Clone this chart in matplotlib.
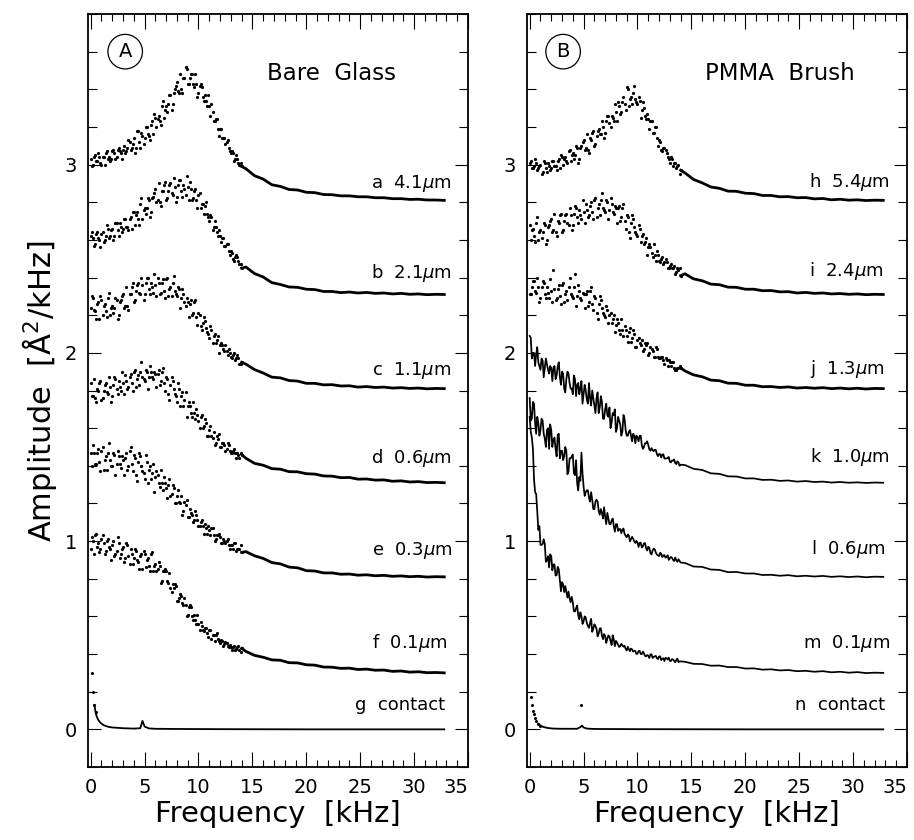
import numpy as np
import matplotlib
matplotlib.use('Agg')
import matplotlib.pyplot as plt
from matplotlib.ticker import MultipleLocator

plt.rcParams['font.family'] = ['DejaVu Sans']
plt.rcParams['mathtext.fontset'] = 'dejavusans'

# frequency bins [kHz]: two interleaved sets in the noisy part, then the smooth tail
freq_low = np.round(np.arange(0.0, 14.01, 0.2), 1)    # 0.0, 0.2 ... 14.0
freq_mid = np.round(np.arange(0.1, 13.95, 0.2), 1)    # 0.1, 0.3 ... 13.9
freq_tail = np.linspace(14.4, 32.8, 24)

# ---- panel A: bare glass ----
a_low = [3.03, 3.00, 3.05, 3.02, 3.04, 3.00, 3.04, 3.06, 3.03, 3.02,
         3.07, 3.06, 3.04, 3.09, 3.06, 3.08, 3.06, 3.09, 3.12, 3.09,
         3.14, 3.09, 3.18, 3.09, 3.15, 3.14, 3.20, 3.15, 3.21, 3.16,
         3.25, 3.24, 3.23, 3.31, 3.25, 3.31, 3.32, 3.37, 3.32, 3.40,
         3.44, 3.38, 3.40, 3.46, 3.52, 3.43, 3.46, 3.48, 3.41, 3.43,
         3.38, 3.43, 3.36, 3.37, 3.31, 3.31, 3.32, 3.23, 3.24, 3.19,
         3.19, 3.14, 3.14, 3.12, 3.09, 3.06, 3.06, 3.03, 3.03, 3.00,
         2.99]
a_mid = [2.99, 3.04, 3.02, 3.06, 3.01, 3.04, 3.00, 3.07, 3.04, 3.03,
         3.08, 3.03, 3.08, 3.07, 3.03, 3.10, 3.07, 3.13, 3.08, 3.11,
         3.06, 3.18, 3.12, 3.17, 3.11, 3.20, 3.16, 3.13, 3.23, 3.27,
         3.20, 3.26, 3.21, 3.34, 3.29, 3.28, 3.37, 3.29, 3.38, 3.42,
         3.39, 3.48, 3.38, 3.46, 3.51, 3.43, 3.48, 3.43, 3.48, 3.36,
         3.42, 3.41, 3.34, 3.34, 3.37, 3.26, 3.28, 3.23, 3.24, 3.15,
         3.19, 3.14, 3.11, 3.13, 3.07, 3.07, 3.02, 3.05, 3.01, 3.01]
a_tail = [2.978, 2.941, 2.923, 2.893, 2.884, 2.868, 2.865, 2.853, 2.851, 2.841, 2.840, 2.834,
          2.834, 2.829, 2.829, 2.824, 2.824, 2.819, 2.819, 2.815, 2.816, 2.812, 2.812, 2.810]

b_low = [2.62, 2.61, 2.58, 2.64, 2.60, 2.63, 2.59, 2.62, 2.66, 2.62,
         2.66, 2.62, 2.69, 2.62, 2.67, 2.66, 2.71, 2.67, 2.71, 2.66,
         2.75, 2.73, 2.71, 2.79, 2.71, 2.77, 2.77, 2.81, 2.75, 2.83,
         2.87, 2.81, 2.80, 2.86, 2.89, 2.81, 2.86, 2.90, 2.84, 2.88,
         2.83, 2.92, 2.86, 2.89, 2.84, 2.88, 2.91, 2.81, 2.86, 2.81,
         2.84, 2.77, 2.79, 2.78, 2.74, 2.70, 2.72, 2.67, 2.67, 2.62,
         2.62, 2.61, 2.57, 2.58, 2.54, 2.54, 2.50, 2.51, 2.51, 2.47,
         2.45]
b_mid = [2.64, 2.57, 2.63, 2.61, 2.56, 2.64, 2.60, 2.68, 2.61, 2.65,
         2.60, 2.69, 2.65, 2.69, 2.64, 2.71, 2.67, 2.65, 2.72, 2.75,
         2.68, 2.75, 2.68, 2.82, 2.76, 2.74, 2.82, 2.72, 2.82, 2.85,
         2.80, 2.90, 2.78, 2.86, 2.91, 2.82, 2.89, 2.85, 2.93, 2.80,
         2.89, 2.92, 2.83, 2.87, 2.94, 2.81, 2.87, 2.82, 2.87, 2.77,
         2.85, 2.79, 2.74, 2.80, 2.72, 2.73, 2.65, 2.70, 2.64, 2.65,
         2.59, 2.61, 2.57, 2.58, 2.52, 2.53, 2.49, 2.52, 2.49, 2.47]
b_tail = [2.456, 2.421, 2.403, 2.373, 2.363, 2.350, 2.348, 2.338, 2.336, 2.326, 2.326, 2.320,
          2.323, 2.318, 2.321, 2.316, 2.318, 2.313, 2.316, 2.311, 2.313, 2.309, 2.311, 2.310]

c_low = [2.24, 2.29, 2.22, 2.26, 2.18, 2.28, 2.25, 2.22, 2.29, 2.20,
         2.25, 2.24, 2.28, 2.20, 2.28, 2.31, 2.25, 2.25, 2.31, 2.35,
         2.27, 2.33, 2.37, 2.31, 2.36, 2.31, 2.40, 2.34, 2.37, 2.32,
         2.36, 2.40, 2.31, 2.37, 2.33, 2.39, 2.30, 2.35, 2.37, 2.33,
         2.30, 2.34, 2.29, 2.31, 2.25, 2.27, 2.26, 2.20, 2.27, 2.19,
         2.21, 2.14, 2.16, 2.17, 2.11, 2.08, 2.12, 2.09, 2.05, 2.09,
         2.04, 2.04, 2.01, 2.01, 2.02, 1.98, 1.99, 1.96, 1.99, 1.94,
         1.95]
c_mid = [2.30, 2.23, 2.18, 2.27, 2.30, 2.20, 2.26, 2.19, 2.32, 2.24,
         2.21, 2.29, 2.18, 2.27, 2.30, 2.24, 2.35, 2.23, 2.31, 2.37,
         2.28, 2.36, 2.32, 2.40, 2.28, 2.37, 2.40, 2.31, 2.35, 2.42,
         2.30, 2.37, 2.32, 2.39, 2.29, 2.40, 2.34, 2.30, 2.41, 2.31,
         2.35, 2.24, 2.34, 2.27, 2.29, 2.19, 2.28, 2.21, 2.28, 2.15,
         2.20, 2.12, 2.19, 2.13, 2.10, 2.14, 2.05, 2.10, 2.07, 2.00,
         2.05, 2.02, 2.04, 1.99, 2.00, 1.97, 2.00, 1.97, 1.97, 1.94]
c_tail = [1.940, 1.911, 1.893, 1.871, 1.867, 1.853, 1.850, 1.838, 1.838, 1.830, 1.831, 1.824,
          1.825, 1.818, 1.821, 1.816, 1.818, 1.813, 1.815, 1.811, 1.813, 1.809, 1.811, 1.810]

d_low = [1.84, 1.77, 1.76, 1.81, 1.84, 1.75, 1.80, 1.84, 1.78, 1.82,
         1.77, 1.87, 1.81, 1.85, 1.80, 1.84, 1.88, 1.81, 1.87, 1.84,
         1.90, 1.82, 1.88, 1.90, 1.87, 1.85, 1.90, 1.87, 1.90, 1.86,
         1.89, 1.89, 1.83, 1.90, 1.84, 1.87, 1.78, 1.83, 1.85, 1.78,
         1.74, 1.81, 1.77, 1.72, 1.79, 1.72, 1.72, 1.66, 1.68, 1.70,
         1.64, 1.66, 1.60, 1.65, 1.56, 1.59, 1.56, 1.58, 1.52, 1.54,
         1.50, 1.52, 1.51, 1.49, 1.51, 1.47, 1.48, 1.47, 1.47, 1.44,
         1.46]
d_mid = [1.77, 1.86, 1.74, 1.80, 1.85, 1.76, 1.83, 1.79, 1.87, 1.74,
         1.83, 1.86, 1.78, 1.82, 1.90, 1.78, 1.85, 1.82, 1.89, 1.80,
         1.91, 1.86, 1.83, 1.95, 1.86, 1.91, 1.81, 1.93, 1.87, 1.90,
         1.82, 1.91, 1.85, 1.92, 1.80, 1.86, 1.75, 1.87, 1.81, 1.77,
         1.84, 1.72, 1.79, 1.75, 1.66, 1.74, 1.68, 1.74, 1.65, 1.67,
         1.60, 1.67, 1.61, 1.63, 1.56, 1.61, 1.55, 1.51, 1.56, 1.57,
         1.50, 1.52, 1.48, 1.52, 1.48, 1.47, 1.49, 1.44, 1.46, 1.47]
d_tail = [1.440, 1.413, 1.403, 1.385, 1.382, 1.369, 1.368, 1.358, 1.356, 1.346, 1.345, 1.337,
          1.338, 1.329, 1.330, 1.324, 1.325, 1.318, 1.320, 1.314, 1.316, 1.311, 1.312, 1.310]

e_low = [1.47, 1.51, 1.41, 1.47, 1.42, 1.48, 1.38, 1.45, 1.47, 1.43,
         1.40, 1.46, 1.41, 1.45, 1.39, 1.43, 1.44, 1.38, 1.48, 1.41,
         1.46, 1.35, 1.42, 1.45, 1.37, 1.33, 1.42, 1.38, 1.33, 1.41,
         1.34, 1.35, 1.29, 1.31, 1.34, 1.28, 1.30, 1.24, 1.30, 1.20,
         1.24, 1.21, 1.24, 1.16, 1.19, 1.13, 1.17, 1.14, 1.11, 1.14,
         1.08, 1.10, 1.08, 1.09, 1.04, 1.06, 1.07, 1.03, 1.01, 1.03,
         1.02, 0.99, 1.00, 1.00, 0.98, 0.98, 0.96, 0.99, 0.96, 0.96,
         0.94]
e_mid = [1.40, 1.47, 1.41, 1.49, 1.37, 1.50, 1.43, 1.38, 1.52, 1.40,
         1.47, 1.35, 1.48, 1.41, 1.45, 1.35, 1.47, 1.40, 1.50, 1.37,
         1.44, 1.32, 1.47, 1.40, 1.36, 1.46, 1.31, 1.40, 1.36, 1.26,
         1.37, 1.31, 1.38, 1.27, 1.31, 1.23, 1.33, 1.25, 1.28, 1.20,
         1.27, 1.20, 1.14, 1.21, 1.22, 1.13, 1.15, 1.10, 1.16, 1.11,
         1.08, 1.11, 1.04, 1.07, 1.08, 1.03, 1.07, 1.00, 1.03, 1.04,
         0.99, 1.01, 0.99, 1.01, 0.96, 0.98, 0.99, 0.95, 0.96, 0.98]
e_tail = [0.944, 0.922, 0.908, 0.886, 0.879, 0.862, 0.858, 0.843, 0.841, 0.831, 0.831, 0.824,
          0.825, 0.819, 0.821, 0.816, 0.818, 0.813, 0.815, 0.811, 0.813, 0.809, 0.811, 0.810]

f_low = [0.96, 1.00, 1.03, 0.97, 0.94, 1.01, 0.99, 0.95, 1.01, 0.96,
         0.98, 0.92, 0.95, 0.99, 0.93, 0.97, 0.91, 0.98, 0.88, 0.93,
         0.91, 0.95, 0.89, 0.92, 0.85, 0.93, 0.90, 0.87, 0.93, 0.84,
         0.88, 0.85, 0.87, 0.79, 0.84, 0.84, 0.78, 0.75, 0.77, 0.77,
         0.68, 0.70, 0.71, 0.66, 0.66, 0.61, 0.66, 0.60, 0.61, 0.56,
         0.56, 0.57, 0.53, 0.54, 0.51, 0.53, 0.48, 0.50, 0.50, 0.48,
         0.46, 0.47, 0.455, 0.457, 0.44, 0.44, 0.44, 0.42, 0.44, 0.42,
         0.43]
f_mid = [1.02, 0.93, 1.04, 0.99, 0.96, 1.03, 0.93, 1.00, 0.97, 0.90,
         1.00, 0.93, 1.02, 0.91, 0.96, 0.89, 0.99, 0.92, 0.96, 0.88,
         0.96, 0.90, 0.85, 0.93, 0.95, 0.86, 0.91, 0.84, 0.94, 0.87,
         0.84, 0.89, 0.78, 0.84, 0.85, 0.79, 0.83, 0.73, 0.75, 0.76,
         0.68, 0.72, 0.67, 0.70, 0.60, 0.65, 0.65, 0.58, 0.58, 0.61,
         0.53, 0.55, 0.52, 0.54, 0.49, 0.53, 0.50, 0.47, 0.51, 0.47,
         0.474, 0.445, 0.466, 0.445, 0.448, 0.424, 0.443, 0.426, 0.442, 0.411]
f_tail = [0.414, 0.393, 0.383, 0.369, 0.367, 0.354, 0.353, 0.343, 0.341, 0.331, 0.330, 0.324,
          0.325, 0.318, 0.320, 0.314, 0.315, 0.308, 0.310, 0.304, 0.306, 0.301, 0.302, 0.300]

g_freq = [0.15, 0.25, 0.35, 0.45, 0.55, 0.7, 0.9, 1.2, 1.6, 2.0, 3.0, 4.0,
          4.6, 4.8, 5.0, 5.4, 6.0, 8.0, 12.0, 20.0, 32.8]
g_amp = [0.30, 0.20, 0.13, 0.09, 0.07, 0.05, 0.035, 0.022, 0.014, 0.010, 0.006, 0.004,
         0.006, 0.045, 0.015, 0.005, 0.003, 0.002, 0.001, 0.0, 0.0]

# ---- panel B: PMMA brush ----
h_low = [3.01, 2.98, 2.99, 3.01, 2.98, 3.00, 2.96, 3.01, 2.96, 2.99,
         2.98, 3.02, 2.99, 3.02, 2.98, 3.04, 3.03, 3.02, 3.07, 3.02,
         3.06, 3.05, 3.09, 3.03, 3.10, 3.13, 3.09, 3.08, 3.14, 3.17,
         3.10, 3.15, 3.19, 3.16, 3.20, 3.17, 3.26, 3.22, 3.26, 3.23,
         3.28, 3.33, 3.27, 3.33, 3.32, 3.41, 3.31, 3.36, 3.38, 3.35,
         3.32, 3.34, 3.29, 3.30, 3.24, 3.24, 3.23, 3.17, 3.20, 3.14,
         3.13, 3.08, 3.09, 3.08, 3.04, 3.01, 3.03, 3.01, 2.98, 3.00,
         2.97]
h_mid = [3.02, 2.98, 3.03, 2.97, 2.99, 2.95, 3.02, 2.98, 3.01, 2.97,
         3.02, 2.99, 2.97, 3.03, 3.05, 3.00, 3.04, 3.01, 3.08, 3.05,
         3.03, 3.10, 3.01, 3.09, 3.12, 3.08, 3.16, 3.06, 3.13, 3.18,
         3.11, 3.18, 3.16, 3.23, 3.14, 3.23, 3.26, 3.20, 3.25, 3.32,
         3.23, 3.31, 3.28, 3.36, 3.29, 3.40, 3.35, 3.32, 3.42, 3.33,
         3.36, 3.25, 3.33, 3.26, 3.27, 3.19, 3.23, 3.17, 3.20, 3.10,
         3.12, 3.07, 3.09, 3.06, 3.03, 3.04, 2.99, 3.01, 2.99, 2.95]
h_tail = [2.956, 2.921, 2.903, 2.881, 2.874, 2.859, 2.858, 2.848, 2.846, 2.836, 2.836, 2.829,
          2.830, 2.824, 2.825, 2.818, 2.820, 2.813, 2.816, 2.811, 2.813, 2.809, 2.811, 2.810]

i_low = [2.68, 2.65, 2.62, 2.69, 2.60, 2.65, 2.64, 2.68, 2.60, 2.68,
         2.71, 2.65, 2.64, 2.70, 2.73, 2.64, 2.70, 2.74, 2.68, 2.73,
         2.68, 2.78, 2.72, 2.76, 2.71, 2.75, 2.79, 2.72, 2.78, 2.75,
         2.81, 2.72, 2.79, 2.81, 2.77, 2.75, 2.80, 2.76, 2.79, 2.74,
         2.77, 2.77, 2.70, 2.77, 2.70, 2.73, 2.64, 2.69, 2.71, 2.64,
         2.62, 2.66, 2.62, 2.58, 2.61, 2.56, 2.56, 2.51, 2.52, 2.54,
         2.49, 2.50, 2.47, 2.50, 2.45, 2.46, 2.45, 2.46, 2.43, 2.44,
         2.41]
i_mid = [2.60, 2.66, 2.59, 2.72, 2.64, 2.61, 2.69, 2.58, 2.67, 2.70,
         2.64, 2.74, 2.62, 2.69, 2.74, 2.65, 2.73, 2.69, 2.77, 2.65,
         2.74, 2.77, 2.69, 2.73, 2.81, 2.69, 2.76, 2.73, 2.80, 2.71,
         2.82, 2.77, 2.73, 2.85, 2.76, 2.81, 2.71, 2.82, 2.75, 2.78,
         2.69, 2.78, 2.72, 2.79, 2.66, 2.72, 2.61, 2.73, 2.67, 2.63,
         2.68, 2.59, 2.63, 2.59, 2.52, 2.58, 2.53, 2.58, 2.49, 2.52,
         2.48, 2.51, 2.48, 2.48, 2.45, 2.47, 2.45, 2.42, 2.45, 2.45]
i_tail = [2.420, 2.393, 2.383, 2.365, 2.362, 2.349, 2.348, 2.338, 2.338, 2.330, 2.331, 2.324,
          2.325, 2.318, 2.321, 2.316, 2.318, 2.313, 2.315, 2.311, 2.313, 2.309, 2.311, 2.310]

j_low = [2.31, 2.35, 2.38, 2.32, 2.35, 2.29, 2.38, 2.31, 2.35, 2.29,
         2.33, 2.44, 2.28, 2.34, 2.30, 2.36, 2.27, 2.33, 2.35, 2.31,
         2.29, 2.42, 2.30, 2.33, 2.28, 2.31, 2.31, 2.25, 2.33, 2.26,
         2.30, 2.21, 2.26, 2.28, 2.21, 2.19, 2.23, 2.20, 2.16, 2.20,
         2.15, 2.16, 2.10, 2.12, 2.14, 2.09, 2.11, 2.06, 2.12, 2.03,
         2.07, 2.05, 2.07, 2.02, 2.04, 1.99, 2.03, 2.01, 1.98, 2.02,
         1.97, 1.98, 1.96, 1.97, 1.93, 1.95, 1.95, 1.92, 1.91, 1.92,
         1.92]
j_mid = [2.31, 2.38, 2.33, 2.40, 2.27, 2.35, 2.37, 2.29, 2.32, 2.39,
         2.27, 2.34, 2.29, 2.36, 2.26, 2.37, 2.31, 2.28, 2.40, 2.30,
         2.35, 2.25, 2.36, 2.29, 2.32, 2.24, 2.33, 2.27, 2.35, 2.23,
         2.29, 2.18, 2.30, 2.24, 2.20, 2.25, 2.16, 2.21, 2.18, 2.11,
         2.18, 2.12, 2.18, 2.09, 2.12, 2.06, 2.13, 2.08, 2.10, 2.03,
         2.08, 2.04, 2.01, 2.05, 2.05, 2.00, 2.02, 1.98, 2.03, 1.98,
         1.97, 1.98, 1.94, 1.96, 1.96, 1.93, 1.95, 1.91, 1.92, 1.93]
j_tail = [1.904, 1.883, 1.873, 1.855, 1.852, 1.839, 1.838, 1.828, 1.828, 1.820, 1.821, 1.816,
          1.819, 1.813, 1.816, 1.812, 1.815, 1.810, 1.813, 1.809, 1.812, 1.808, 1.811, 1.810]

k_low = [2.09, 1.97, 2.00, 1.99, 1.95, 1.91, 1.96, 1.92, 1.94, 1.89,
         1.92, 1.92, 1.86, 1.93, 1.87, 1.90, 1.81, 1.86, 1.89, 1.81,
         1.78, 1.86, 1.83, 1.78, 1.85, 1.78, 1.80, 1.73, 1.76, 1.80,
         1.72, 1.76, 1.68, 1.77, 1.65, 1.70, 1.67, 1.71, 1.63, 1.67,
         1.58, 1.66, 1.62, 1.58, 1.65, 1.56, 1.58, 1.56, 1.57, 1.52,
         1.55, 1.56, 1.51, 1.50, 1.52, 1.51, 1.48, 1.484, 1.485, 1.462,
         1.463, 1.444, 1.461, 1.439, 1.442, 1.422, 1.428, 1.434, 1.409, 1.418,
         1.406]
k_mid = [2.08, 2.00, 1.93, 2.03, 1.93, 1.97, 1.87, 1.97, 1.91, 1.93,
         1.85, 1.93, 1.88, 1.95, 1.83, 1.89, 1.79, 1.90, 1.84, 1.81,
         1.88, 1.77, 1.84, 1.81, 1.73, 1.83, 1.75, 1.84, 1.72, 1.76,
         1.68, 1.79, 1.71, 1.74, 1.65, 1.73, 1.66, 1.60, 1.68, 1.70,
         1.60, 1.64, 1.56, 1.67, 1.59, 1.56, 1.59, 1.53, 1.56, 1.56,
         1.53, 1.56, 1.49, 1.52, 1.53, 1.487, 1.494, 1.477, 1.484, 1.451,
         1.462, 1.46, 1.438, 1.439, 1.447, 1.418, 1.427, 1.414, 1.424, 1.40]
k_tail = [1.404, 1.384, 1.378, 1.360, 1.357, 1.344, 1.343, 1.333, 1.333, 1.325, 1.326, 1.320,
          1.322, 1.316, 1.319, 1.314, 1.316, 1.311, 1.314, 1.310, 1.312, 1.309, 1.311, 1.310]

l_low = [1.76, 1.65, 1.73, 1.57, 1.63, 1.59, 1.64, 1.545, 1.59, 1.49,
         1.59, 1.54, 1.49, 1.565, 1.44, 1.48, 1.45, 1.48, 1.37, 1.44,
         1.46, 1.35, 1.31, 1.34, 1.47, 1.29, 1.26, 1.27, 1.21, 1.22,
         1.17, 1.22, 1.16, 1.17, 1.12, 1.13, 1.15, 1.09, 1.11, 1.08,
         1.09, 1.054, 1.064, 1.06, 1.038, 1.02, 1.03, 1.01, 1.012, 0.99,
         0.992, 0.99, 0.966, 0.988, 0.962, 0.97, 0.936, 0.95, 0.956, 0.928,
         0.92, 0.933, 0.924, 0.912, 0.925, 0.909, 0.911, 0.894, 0.898, 0.904,
         0.886]
l_mid = [1.64, 1.74, 1.63, 1.66, 1.56, 1.65, 1.57, 1.50, 1.60, 1.62,
         1.50, 1.55, 1.45, 1.57, 1.48, 1.43, 1.50, 1.355, 1.44, 1.45,
         1.36, 1.43, 1.27, 1.32, 1.36, 1.24, 1.27, 1.23, 1.26, 1.17,
         1.21, 1.21, 1.14, 1.15, 1.18, 1.09, 1.12, 1.09, 1.12, 1.05,
         1.09, 1.063, 1.042, 1.067, 1.028, 1.035, 0.998, 1.023, 0.998, 1.001,
         0.969, 0.992, 0.971, 0.989, 0.95, 0.964, 0.929, 0.96, 0.939, 0.924,
         0.938, 0.915, 0.925, 0.917, 0.90, 0.916, 0.90, 0.913, 0.89, 0.895]
l_tail = [0.884, 0.865, 0.863, 0.849, 0.847, 0.835, 0.836, 0.828, 0.828, 0.820, 0.821, 0.816,
          0.819, 0.813, 0.816, 0.812, 0.815, 0.810, 0.813, 0.809, 0.812, 0.808, 0.811, 0.810]

m_low = [1.66, 1.55, 1.33, 1.25, 1.06, 0.98, 0.985, 0.985, 0.90, 0.86,
         0.92, 0.876, 0.817, 0.863, 0.79, 0.782, 0.729, 0.73, 0.732, 0.675,
         0.675, 0.626, 0.658, 0.585, 0.602, 0.574, 0.593, 0.549, 0.565, 0.518,
         0.558, 0.533, 0.508, 0.537, 0.479, 0.496, 0.481, 0.493, 0.448, 0.478,
         0.47, 0.45, 0.441, 0.446, 0.444, 0.419, 0.426, 0.429, 0.413, 0.416,
         0.402, 0.417, 0.40, 0.403, 0.388, 0.391, 0.398, 0.379, 0.388, 0.378,
         0.387, 0.368, 0.378, 0.38, 0.371, 0.364, 0.373, 0.364, 0.368, 0.357,
         0.361]
m_mid = [1.58, 1.49, 1.26, 1.16, 1.08, 0.98, 1.01, 0.89, 0.92, 0.93,
         0.845, 0.876, 0.819, 0.85, 0.733, 0.77, 0.761, 0.70, 0.696, 0.704,
         0.628, 0.643, 0.606, 0.622, 0.56, 0.60, 0.565, 0.539, 0.587, 0.534,
         0.549, 0.494, 0.536, 0.498, 0.506, 0.459, 0.499, 0.468, 0.50, 0.442,
         0.461, 0.438, 0.454, 0.439, 0.428, 0.438, 0.415, 0.425, 0.417, 0.40,
         0.416, 0.40, 0.413, 0.39, 0.395, 0.379, 0.399, 0.384, 0.39, 0.373,
         0.388, 0.374, 0.363, 0.378, 0.381, 0.363, 0.371, 0.356, 0.376, 0.361]
m_tail = [0.359, 0.348, 0.347, 0.338, 0.339, 0.331, 0.331, 0.323, 0.324, 0.317, 0.319, 0.313,
          0.315, 0.309, 0.311, 0.306, 0.309, 0.303, 0.306, 0.301, 0.304, 0.299, 0.301, 0.300]

n_freq = [0.1, 0.2, 0.3, 0.4, 0.5, 0.6, 0.8, 1.0, 1.3, 1.7, 2.2, 3.0,
          4.4, 4.7, 4.85, 5.0, 5.3, 6.0, 10.0, 20.0, 32.8]
n_amp = [0.17, 0.13, 0.10, 0.08, 0.06, 0.045, 0.03, 0.02, 0.012, 0.007, 0.004, 0.003,
         0.003, 0.012, 0.02, 0.01, 0.004, 0.002, 0.001, 0.0, 0.0]
n_stray = ([4.8], [0.13])

labels_A = ['a  4.1$\\mu$m', 'b  2.1$\\mu$m', 'c  1.1$\\mu$m', 'd  0.6$\\mu$m',
            'e  0.3$\\mu$m', 'f  0.1$\\mu$m', 'g  contact']
labels_B = ['h  5.4$\\mu$m', 'i  2.4$\\mu$m', 'j  1.3$\\mu$m', 'k  1.0$\\mu$m',
            'l  0.6$\\mu$m', 'm  0.1$\\mu$m', 'n  contact']
label_x_A = [33.5, 33.5, 33.5, 33.5, 33.6, 33.15, 32.9]
label_y_A = [2.876, 2.40, 1.884, 1.417, 0.924, 0.434, 0.101]
label_x_B = [33.4, 32.8, 32.95, 33.4, 33.0, 33.4, 33.0]
label_y_B = [2.88, 2.41, 1.89, 1.42, 0.929, 0.434, 0.105]

fig = plt.figure(figsize=(9.14, 8.4), dpi=100)
axA = fig.add_axes([88 / 914, 73 / 840, 380 / 914, 753 / 840])
axB = fig.add_axes([527 / 914, 73 / 840, 380 / 914, 753 / 840])


def style(ax):
    ax.set_xlim(-0.25, 35)
    ax.set_ylim(-0.2, 3.8)
    ax.set_xticks(range(0, 36, 5))
    ax.xaxis.set_minor_locator(MultipleLocator(1))
    ax.yaxis.set_major_locator(MultipleLocator(1))
    ax.yaxis.set_minor_locator(MultipleLocator(0.2))
    ax.tick_params(which='both', direction='in', top=True, right=True,
                   width=0.8, labelsize=14, pad=8)
    ax.tick_params(axis='x', which='major', length=10.5)
    ax.tick_params(axis='x', which='minor', length=5)
    ax.tick_params(axis='y', which='major', length=9.5)
    ax.tick_params(axis='y', which='minor', length=6.5)
    ax.get_xticklabels()[-1].set_horizontalalignment('right')
    for s in ax.spines.values():
        s.set_linewidth(1.3)
    ax.set_xlabel('Frequency  [kHz]', fontsize=21, labelpad=2)


def dotted_curve(ax, low, mid, tail):
    ax.plot(freq_low, low, ls='none', marker='o', ms=2.3, mew=0, color='k')
    ax.plot(freq_mid, mid, ls='none', marker='o', ms=2.3, mew=0, color='k')
    ax.plot(np.r_[freq_low[-1], freq_tail], np.r_[low[-1], tail], color='k', lw=2.0)


def line_curve(ax, low, mid, tail):
    f = np.r_[freq_low, freq_mid]
    y = np.r_[low, mid]
    order = np.argsort(f)
    ax.plot(np.r_[f[order], freq_tail], np.r_[y[order], tail], color='k', lw=1.25)


for low, mid, tail in [(a_low, a_mid, a_tail), (b_low, b_mid, b_tail), (c_low, c_mid, c_tail),
                       (d_low, d_mid, d_tail), (e_low, e_mid, e_tail), (f_low, f_mid, f_tail)]:
    dotted_curve(axA, low, mid, tail)
axA.plot(g_freq[2:], g_amp[2:], color='k', lw=1.3)
axA.plot(g_freq[:4], g_amp[:4], ls='none', marker='o', ms=2.2, mew=0, color='k')

for low, mid, tail in [(h_low, h_mid, h_tail), (i_low, i_mid, i_tail), (j_low, j_mid, j_tail)]:
    dotted_curve(axB, low, mid, tail)
for low, mid, tail in [(k_low, k_mid, k_tail), (l_low, l_mid, l_tail), (m_low, m_mid, m_tail)]:
    line_curve(axB, low, mid, tail)
axB.plot(n_freq[6:], n_amp[6:], color='k', lw=1.3)
axB.plot(n_freq[:8], n_amp[:8], ls='none', marker='o', ms=2.2, mew=0, color='k')
axB.plot(*n_stray, ls='none', marker='o', ms=2.2, mew=0, color='k')

for ax, labs, lx, ly in [(axA, labels_A, label_x_A, label_y_A),
                         (axB, labels_B, label_x_B, label_y_B)]:
    for s, x, y in zip(labs, lx, ly):
        ax.text(x, y, s, ha='right', va='baseline', fontsize=13)

axA.text(22.3, 3.45, 'Bare  Glass', ha='center', va='baseline', fontsize=16.5)
axB.text(23.2, 3.45, 'PMMA  Brush', ha='center', va='baseline', fontsize=16.5)
for ax, letter, x in [(axA, 'A', 3.2), (axB, 'B', 3.1)]:
    ax.text(x, 3.6, letter, ha='center', va='center', fontsize=14,
            bbox=dict(boxstyle='circle,pad=0.4', fc='none', ec='k', lw=0.9))

for ax in (axA, axB):
    style(ax)

fig.text(40 / 914, 1 - 391 / 840, 'Amplitude  [Å$^2$/kHz]', rotation=90,
         ha='center', va='center', fontsize=22)

fig.savefig('out.png', dpi=100)
